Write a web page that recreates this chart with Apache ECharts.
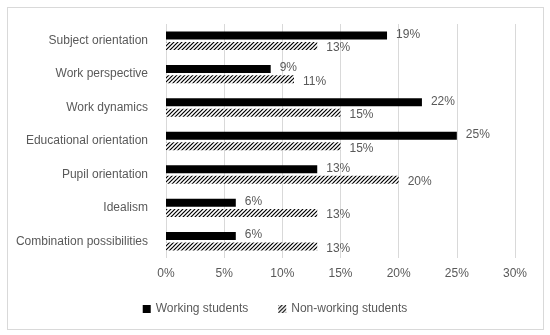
<!DOCTYPE html>
<html><head><meta charset="utf-8">
<script src="https://cdn.jsdelivr.net/npm/echarts@6/dist/echarts.min.js"></script>
<style>html,body{margin:0;padding:0;background:#fff}#wrap{position:absolute;left:7px;top:7px;width:537px;height:323px;border:1px solid #d9d9d9;box-sizing:border-box}#c{position:absolute;left:0;top:0;width:550px;height:335px}</style>
</head><body><div id="wrap"></div><div id="c"></div>
<script>
var categories = ["Subject orientation","Work perspective","Work dynamics","Educational orientation","Pupil orientation","Idealism","Combination possibilities"];
var working = [19, 9, 22, 25, 13, 6, 6];
var nonWorking = [13, 11, 15, 15, 20, 13, 13];
var xTicks = [0, 5, 10, 15, 20, 25, 30];

function hatch(){
  var c = document.createElement('canvas'); c.width = 4; c.height = 4;
  var g = c.getContext('2d');
  g.fillStyle = '#fff'; g.fillRect(0,0,4,4);
  g.strokeStyle = '#000'; g.lineWidth = 1.2;
  g.beginPath(); g.moveTo(-1,5); g.lineTo(5,-1); g.stroke();
  g.beginPath(); g.moveTo(-1,1); g.lineTo(1,-1); g.stroke();
  g.beginPath(); g.moveTo(3,5); g.lineTo(5,3); g.stroke();
  return c;
}
var pat = {image: hatch(), repeat: 'repeat'};
var font = 'Liberation Sans, Arial, sans-serif';
var chart = echarts.init(document.getElementById('c'), null, {renderer:'canvas'});
chart.setOption({
  animation:false,
  grid:{left:166, right:35, top:24, bottom:77, containLabel:false},
  legend:{bottom:15, left:'center', itemWidth:8, itemHeight:8, itemGap:30,
    textStyle:{color:'#595959', fontSize:12, fontFamily:font},
    data:[{name:'Working students', icon:'rect'},{name:'Non-working students', icon:'rect'}]},
  xAxis:{type:'value', min:xTicks[0], max:xTicks[xTicks.length-1], interval:5,
    axisLine:{show:false}, axisTick:{show:false},
    axisLabel:{formatter:'{value}%', color:'#595959', fontSize:12, fontFamily:font, margin:10},
    splitLine:{lineStyle:{color:'#d9d9d9'}}},
  yAxis:{type:'category', data:categories, inverse:true,
    axisLine:{show:false}, axisTick:{show:false},
    axisLabel:{color:'#595959', fontSize:12, fontFamily:font, margin:18}},
  series:[
    {name:'Working students', type:'bar', data:working, barWidth:8, barGap:'30%',
      itemStyle:{color:'#000'},
      label:{show:true, position:'right', formatter:'{c}%', color:'#595959', fontSize:12, fontFamily:font, distance:9, offset:[0,-1]}},
    {name:'Non-working students', type:'bar', data:nonWorking, barWidth:8,
      itemStyle:{color:pat},
      label:{show:true, position:'right', formatter:'{c}%', color:'#595959', fontSize:12, fontFamily:font, distance:9, offset:[0,2]}}
  ]
});
</script></body></html>
